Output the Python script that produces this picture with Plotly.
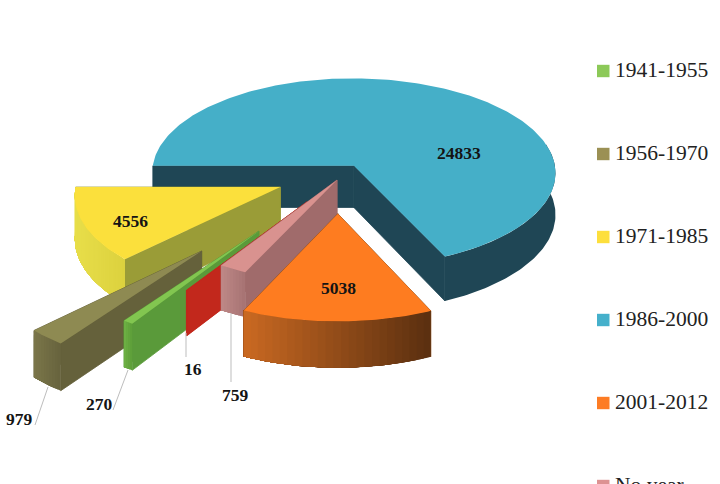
import math
import plotly.graph_objects as go

# Series in legend order; the last, tiny slice has its key below the visible area.
periods = ["1941-1955", "1956-1970", "1971-1985", "1986-2000", "2001-2012", "No year", "Other"]
counts = [270, 979, 4556, 24833, 5038, 759, 16]
legend_colors = ["#8cc958", "#9b9054", "#fddf3c", "#45b0cb", "#fd7c24", "#dd9292", "#c2281c"]

# Radial pull-out of each slice as a fraction of the radius, plus small page nudges.
explode = [0.67, 1.0, 0.30, 0.165, 0.33, 0.0, 0.28]
nudge_x = [1, 3, 0, -1, 1, 0, 1]
nudge_y = [-4, -6, -4, -1, 1.5, 0, -1]
top_colors = ["#82c650", "#8e8a52", "#fbe03c", "#45afc8", "#fe7c20", "#d9928f", "#c2281c"]
cut_colors = ["#5a9a3a", "#65613b", "#9a9c37", "#1f4655", "#8a4a18", "#a06b6b", "#c2281c"]
rim_left = ["#70b446", "#7c774a", "#e8de4a", "#1f4655", "#cc6a22", "#c08a88", "#c2281c"]
rim_right = ["#5fa03a", "#68643e", "#dcd23e", "#1f4655", "#5c3010", "#a87474", "#c2281c"]

# Painter's order, back to front.
paint_order = [3, 2, 1, 0, 6, 5, 4]

# Projection of the tilted pie onto the 720x484 page.
ROTATION = 212.67
CX, CY = 337.0, 180.0
RADIUS = 203.0
TILT = 0.47
PERSPECTIVE = 0.07
THICKNESS = 42.0
PAGE_W, PAGE_H = 720, 484


def project(i, wx, wy, drop=0.0):
    s = 1.0 / (1.0 - PERSPECTIVE * wy)
    return (
        CX + nudge_x[i] + wx * s * RADIUS,
        CY + nudge_y[i] + wy * s * RADIUS * TILT + drop * s,
    )


def hex_mix(a, b, t):
    ca = [int(a[i:i + 2], 16) for i in (1, 3, 5)]
    cb = [int(b[i:i + 2], 16) for i in (1, 3, 5)]
    return "#%02x%02x%02x" % tuple(round(p + (q - p) * t) for p, q in zip(ca, cb))


def polygon(points, color, edge=0.0):
    return go.Scatter(
        x=[p[0] for p in points] + [points[0][0]],
        y=[p[1] for p in points] + [points[0][1]],
        mode="lines",
        fill="toself",
        fillcolor=color,
        line=dict(color=color, width=edge),
        hoverinfo="skip",
        showlegend=False,
    )


def front_run(thetas):
    """Longest unbroken stretch of the arc that faces the viewer."""
    runs, current = [], []
    for t in thetas:
        if math.cos(math.radians(t)) < 0.25:
            current.append(t)
        elif current:
            runs.append(current)
            current = []
    if current:
        runs.append(current)
    return max(runs, key=len) if runs else []


total = sum(counts)
starts, ends = [], []
angle = ROTATION
for value in counts:
    starts.append(angle)
    angle += value / total * 360.0
    ends.append(angle)


def slice_world(i, theta_deg, radial=1.0):
    mid = math.radians((starts[i] + ends[i]) / 2)
    th = math.radians(theta_deg)
    return (
        radial * math.sin(th) + explode[i] * math.sin(mid),
        -radial * math.cos(th) - explode[i] * math.cos(mid),
    )


fig = go.Figure()

for i in paint_order:
    a0, a1 = starts[i], ends[i]
    steps = max(4, math.ceil(a1 - a0))
    thetas = [a0 + (a1 - a0) * k / steps for k in range(steps + 1)]
    apex = slice_world(i, a0, 0.0)

    # Straight cut faces running from the apex out to the rim; a hairline of the
    # same colour closes the joins between neighbouring faces.
    for edge in (a1, a0):
        w = slice_world(i, edge)
        fig.add_trace(polygon(
            [project(i, *apex), project(i, *w), project(i, *w, THICKNESS), project(i, *apex, THICKNESS)],
            cut_colors[i],
            edge=0.8,
        ))

    # Curved outer wall: each colour band runs to the arc's end and the next band
    # paints over it, so the shading has no seams between bands.
    front = front_run(thetas)
    if len(front) > 1:
        worlds = [slice_world(i, t) for t in front]
        xs = [project(i, *w)[0] for w in worlds]
        lo, hi = min(xs), max(xs)
        bands = 24 if rim_left[i] != rim_right[i] else 1
        stride = max(1, (len(worlds) - 1) // bands)
        for k in range(0, len(worlds) - 1, stride):
            tail = worlds[k:]
            shade = (xs[k] - lo) / (hi - lo) if hi > lo else 0.0
            upper = [project(i, *w) for w in tail]
            lower = [project(i, *w, THICKNESS) for w in reversed(tail)]
            fig.add_trace(polygon(upper + lower, hex_mix(rim_left[i], rim_right[i], shade)))

    # Top surface.
    fig.add_trace(polygon(
        [project(i, *apex)] + [project(i, *slice_world(i, t)) for t in thetas],
        top_colors[i],
    ))

# Leader lines for the labels placed outside the thin slices.
leaders = [
    ((186, 333), (186, 357)),
    ((231, 313), (231, 382)),
    ((128, 370), (113, 410)),
    ((48, 387), (35, 425)),
]
for (x0, y0), (x1, y1) in leaders:
    fig.add_trace(go.Scatter(
        x=[x0, x1], y=[y0, y1], mode="lines",
        line=dict(color="#bdbdbd", width=1),
        hoverinfo="skip", showlegend=False,
    ))

# Value labels.
value_labels = {
    3: (459, 153), 2: (130, 221), 4: (338, 288),
    6: (193, 369), 5: (235, 395), 0: (99, 404), 1: (19, 419),
}
for i, (x, y) in value_labels.items():
    fig.add_annotation(
        x=x, y=y, text=str(counts[i]), showarrow=False,
        font=dict(family="Liberation Serif", size=17.5, color="#141414", weight="bold"),
    )

# Hand-spaced key down the right-hand side; it runs off the bottom of the page,
# so it is placed in paper units, which the axis range does not cull.
for k in range(6):
    cy = 71 + 83 * k
    fig.add_shape(
        type="rect", xref="paper", yref="paper",
        x0=597 / PAGE_W, x1=609.5 / PAGE_W,
        y0=1 - (cy - 6.2) / PAGE_H, y1=1 - (cy + 6.2) / PAGE_H,
        fillcolor=legend_colors[k], line=dict(width=0),
    )
    fig.add_annotation(
        xref="paper", yref="paper",
        x=613.5 / PAGE_W, y=1 - (cy - 1) / PAGE_H,
        xanchor="left", yanchor="middle",
        text=periods[k], showarrow=False,
        borderpad=0,
        font=dict(family="Liberation Serif", size=21.5, color="#222222"),
    )

fig.update_layout(
    width=PAGE_W, height=PAGE_H,
    margin=dict(l=0, r=0, t=0, b=0),
    paper_bgcolor="white", plot_bgcolor="white",
    xaxis=dict(range=[0, PAGE_W], visible=False, fixedrange=True),
    yaxis=dict(range=[PAGE_H, 0], visible=False, fixedrange=True),
    showlegend=False,
)

fig.write_html("out.html", config={"displayModeBar": False})
